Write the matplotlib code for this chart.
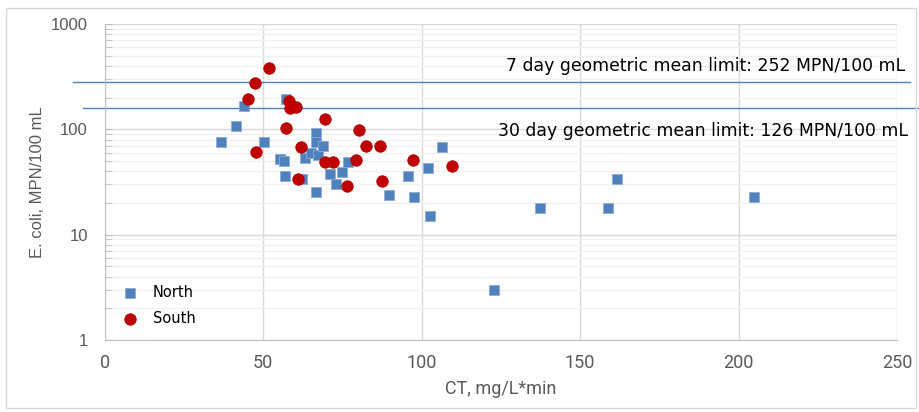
import matplotlib
matplotlib.use("Agg")
import matplotlib.pyplot as plt
import matplotlib.transforms as mtransforms
from matplotlib.patches import Rectangle
from matplotlib.ticker import FixedLocator, LogLocator, NullFormatter

# North samples: CT (mg/L*min) and E. coli (MPN/100 mL)
north_ct = [36.6, 41.3, 43.9, 50.2, 55.4, 56.5, 56.8, 57.2, 62.4, 63.1,
            65.2, 66.8, 66.8, 67.3, 68.9, 66.6, 71.2, 72.9, 75.0, 76.8,
            89.7, 95.7, 97.5, 102.0, 102.8, 106.3, 123.0, 137.4, 158.8, 161.7,
            204.9]
north_ec = [75, 108, 166, 75, 52, 50, 36, 193, 33.5, 53,
            59, 92, 76, 57, 69, 25.4, 38, 30, 39.5, 49,
            24, 36, 23, 43, 15, 68, 3, 18, 18, 34,
            23]

# South samples
south_ct = [51.9, 47.5, 45.4, 58.2, 58.4, 60.5, 57.2, 62.1, 47.7, 69.4,
            69.4, 72.1, 61.0, 76.6, 79.3, 80.2, 82.6, 86.9, 97.3, 109.7,
            87.5]
south_ec = [385, 277, 193, 186, 158, 162, 104, 68, 61, 125,
            49, 49, 33.5, 29, 51, 99, 69, 70, 51, 45,
            32]

# limit lines as drawn on the chart, with their captions
limit_levels = [281, 161]
limit_labels = ["7 day geometric mean limit: 252 MPN/100 mL",
                "30 day geometric mean limit: 126 MPN/100 mL"]

x_ticks = [0, 50, 100, 150, 200, 250]
y_ticks = [1, 10, 100, 1000]

narrow = ["Liberation Sans Narrow", "DejaVu Sans Condensed", "Roboto"]

W, H = 920, 412
fig = plt.figure(figsize=(W / 100, H / 100), dpi=100)
ax = fig.add_axes([104.6 / W, 1 - 340 / H, (897 - 104.6) / W, (340 - 24) / H])

ax.set_yscale("log")
ax.set_xlim(0, 250)
ax.set_ylim(1, 1000)

ax.xaxis.set_major_locator(FixedLocator(x_ticks))
ax.yaxis.set_major_locator(FixedLocator(y_ticks))
ax.yaxis.set_minor_locator(LogLocator(base=10, subs=range(2, 10)))
ax.yaxis.set_minor_formatter(NullFormatter())
ax.set_yticklabels([str(v) for v in y_ticks])

ax.grid(axis="x", which="major", color="#d9d9d9", lw=1)
ax.grid(axis="y", which="major", color="#d9d9d9", lw=1)
ax.grid(axis="y", which="minor", color="#f0f0f0", lw=1)
ax.set_axisbelow(True)

for s in ["top", "right"]:
    ax.spines[s].set_visible(False)
for s in ["left", "bottom"]:
    ax.spines[s].set_color("#bfbfbf")

ax.tick_params(axis="y", which="both", direction="in", length=5, color="#bfbfbf",
               labelsize=12, labelcolor="#595959", pad=12)
ax.tick_params(axis="x", length=0, pad=10, labelcolor="#595959")
for lab in ax.get_xticklabels():
    lab.set_fontfamily(narrow)
    lab.set_fontsize(13)
for lab in ax.get_yticklabels():
    lab.set_fontfamily("Liberation Sans")

ax.set_xlabel("CT, mg/L*min", fontfamily=narrow, fontsize=13,
              color="#595959", labelpad=6)
ax.set_ylabel("E. coli, MPN/100 mL", fontfamily="Liberation Sans", fontsize=12,
              color="#595959", labelpad=4)

ax.scatter(north_ct, north_ec, marker="s", s=50, color="#4f81bd",
           edgecolor="#8eacd3", linewidth=0.6, label="North", zorder=3)
ax.scatter(south_ct, south_ec, marker="o", s=68, color="#c00000",
           edgecolor="#b00000", linewidth=0.6, label="South", zorder=4)

# limit lines run a little past the plot area on both sides
trans = mtransforms.blended_transform_factory(ax.transAxes, ax.transData)
starts = [(73 - 104.6) / 792.4, (83 - 104.6) / 792.4]
ends = [(910 - 104.6) / 792.4, (920 - 104.6) / 792.4]
for lvl, x0, x1 in zip(limit_levels, starts, ends):
    ax.plot([x0, x1], [lvl, lvl], transform=trans, color="#4f81bd", lw=1,
            clip_on=False, zorder=2)

fig.text(905 / W, 1 - 66 / H, limit_labels[0], ha="right", va="center",
         fontsize=12.4, color="black")
fig.text(908 / W, 1 - 131 / H, limit_labels[1], ha="right", va="center",
         fontsize=12.4, color="black")

leg = ax.legend(loc="upper left", bbox_to_anchor=(0.006, 0.192), frameon=False,
                fontsize=10.5, labelspacing=0.75, handletextpad=0.6,
                borderaxespad=0)
for t in leg.get_texts():
    t.set_color("black")

# chart border
fig.patches.append(Rectangle((6 / W, 4 / H), 910 / W, 400 / H,
                             transform=fig.transFigure, fill=False,
                             edgecolor="#d9d9d9", lw=1))

fig.savefig("out.png", dpi=100)
